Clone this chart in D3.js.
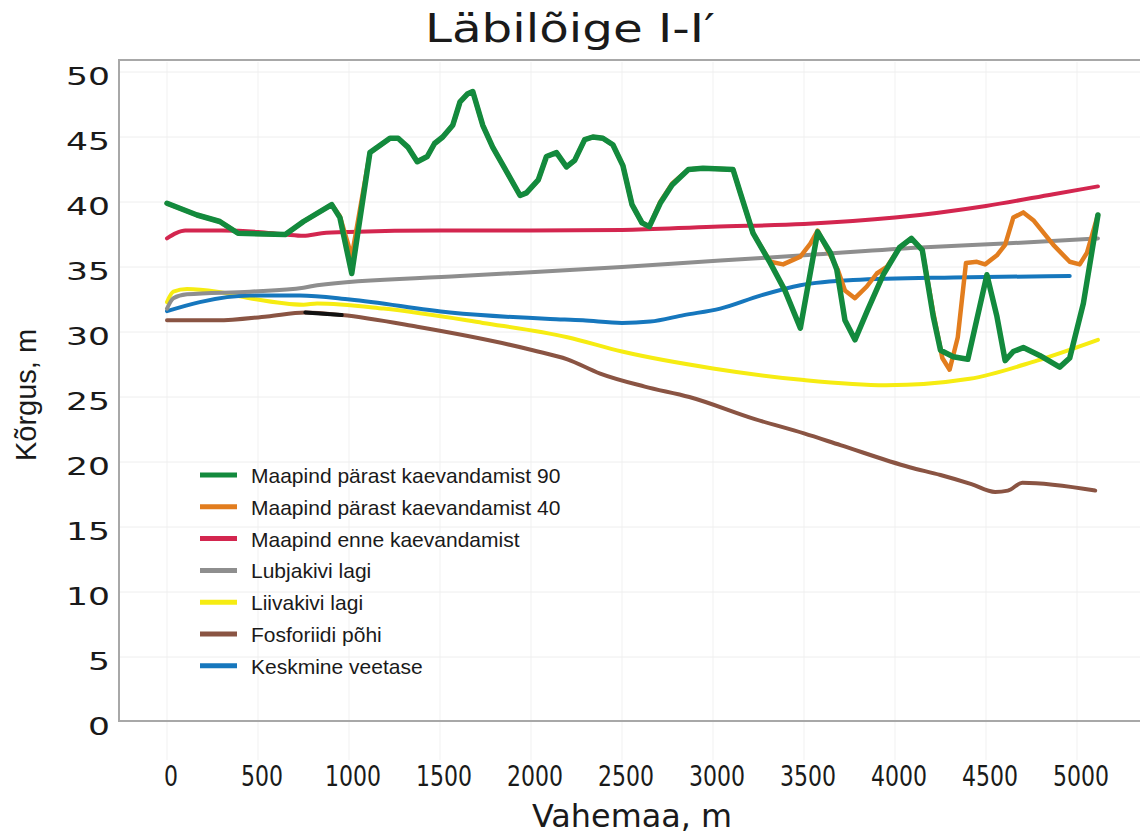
<!DOCTYPE html>
<html lang="et">
<head>
<meta charset="UTF-8">
<title>Läbilõige I-I′</title>
<script src="https://d3js.org/d3.v7.min.js"></script>
<style>
    body { margin: 0; background: #fff; }
    svg text { fill: #1a1a1a; }
    .legend-text { font-family: 'Liberation Sans', Arial, sans-serif; font-size: 21px; }
    .tick-y { font-family: 'DejaVu Sans', Verdana, sans-serif; font-size: 24px; }
    .tick-x { font-family: 'DejaVu Sans', Verdana, sans-serif; font-size: 28px; }
</style>
</head>
<body>
<svg id="chart" width="1140" height="834"></svg>
<script>
// distance (m), elevation (m)
const green90 = [[0,39.9],[165,39.0],[290,38.5],[390,37.6],[650,37.5],[750,38.5],[905,39.8],[950,38.8],[1015,34.5],[1115,43.8],[1225,44.9],[1270,44.9],[1325,44.2],[1375,43.1],[1430,43.5],[1470,44.5],[1515,45.0],[1570,45.9],[1610,47.7],[1650,48.3],[1680,48.5],[1735,45.9],[1790,44.2],[1855,42.6],[1940,40.5],[1975,40.7],[2040,41.7],[2085,43.5],[2140,43.8],[2195,42.7],[2240,43.2],[2295,44.8],[2340,45.0],[2395,44.9],[2450,44.4],[2505,42.8],[2555,39.8],[2610,38.4],[2650,38.1],[2710,39.9],[2775,41.3],[2865,42.5],[2945,42.6],[3110,42.5],[3150,40.7],[3220,37.6],[3315,35.3],[3395,33.2],[3480,30.3],[3575,37.7],[3645,36.1],[3680,34.8],[3725,30.9],[3780,29.4],[3850,31.7],[3935,34.4],[4025,36.5],[4090,37.2],[4150,36.3],[4210,31.2],[4250,28.6],[4320,28.1],[4400,27.9],[4505,34.4],[4560,31.2],[4605,27.8],[4650,28.5],[4705,28.8],[4795,28.2],[4905,27.3],[4960,28.0],[5035,32.2],[5115,39.0]];
const orange40 = [[0,39.9],[165,39.0],[290,38.5],[390,37.6],[650,37.5],[750,38.5],[905,39.8],[950,38.9],[1015,35.8],[1115,43.8],[1225,44.9],[1270,44.9],[1325,44.2],[1375,43.1],[1430,43.5],[1470,44.5],[1515,45.0],[1570,45.9],[1610,47.7],[1650,48.3],[1680,48.5],[1735,45.9],[1790,44.2],[1855,42.6],[1940,40.5],[1975,40.7],[2040,41.7],[2085,43.5],[2140,43.8],[2195,42.7],[2240,43.2],[2295,44.8],[2340,45.0],[2395,44.9],[2450,44.4],[2505,42.8],[2555,39.8],[2610,38.4],[2650,38.1],[2710,40.0],[2775,41.4],[2865,42.5],[2945,42.6],[3110,42.5],[3150,40.7],[3220,37.6],[3315,35.4],[3385,35.2],[3480,35.8],[3535,36.8],[3575,37.8],[3630,36.3],[3685,34.8],[3725,33.2],[3780,32.6],[3845,33.5],[3900,34.5],[3955,35.0],[4025,36.5],[4090,37.2],[4150,36.3],[4210,31.5],[4260,28.0],[4300,27.1],[4345,29.6],[4390,35.3],[4450,35.4],[4495,35.2],[4560,35.9],[4605,36.7],[4650,38.8],[4705,39.2],[4760,38.6],[4870,36.7],[4960,35.4],[5015,35.2],[5055,36.1],[5115,39.0]];
const redBefore = [[0,37.2],[50,37.6],[100,37.8],[300,37.8],[500,37.7],[650,37.5],[750,37.4],[850,37.6],[1000,37.7],[1500,37.8],[2000,37.8],[2500,37.85],[3000,38.1],[3500,38.3],[4000,38.8],[4500,39.7],[4870,40.6],[5115,41.2]];
const limestone = [[0,31.8],[35,32.6],[110,32.9],[455,33.1],[750,33.4],[825,33.6],[1610,34.3],[2500,35.0],[3040,35.5],[3500,35.9],[4140,36.5],[4600,36.8],[5115,37.2]];
const sandstone = [[0,32.3],[35,33.1],[110,33.3],[275,33.1],[455,32.6],[750,32.1],[825,32.2],[1190,31.8],[1735,30.7],[2200,29.6],[2500,28.5],[3000,27.2],[3500,26.3],[3950,25.9],[4410,26.4],[4780,27.8],[5115,29.4]];
const phosphorite = [[0,30.9],[275,30.9],[550,31.2],[760,31.5],[960,31.3],[1375,30.4],[2010,28.6],[2200,27.9],[2380,26.8],[2625,25.8],[2870,25.0],[3230,23.3],[3500,22.2],[3700,21.3],[4080,19.6],[4250,19.0],[4420,18.3],[4550,17.7],[4620,17.8],[4700,18.4],[5100,17.8]];
const blackPiece = [[760,31.5],[960,31.3]];
const waterLevel = [[0,31.6],[180,32.3],[455,32.8],[730,32.8],[1005,32.5],[1555,31.5],[2105,31.0],[2285,30.9],[2500,30.7],[2655,30.8],[2840,31.3],[3040,31.8],[3260,32.8],[3480,33.6],[3770,34.0],[4320,34.2],[4960,34.3]];

const seriesNames = ["Maapind pärast kaevandamist 90", "Maapind pärast kaevandamist 40", "Maapind enne kaevandamist", "Lubjakivi lagi", "Liivakivi lagi", "Fosforiidi põhi", "Keskmine veetase"];
const seriesColors = ["#138a3d", "#e27d1e", "#d3264f", "#8e8e8e", "#f6ec12", "#8a5443", "#1677bd"];
const xTicks = [0, 500, 1000, 1500, 2000, 2500, 3000, 3500, 4000, 4500, 5000];
const yTicks = [0, 5, 10, 15, 20, 25, 30, 35, 40, 45, 50];

const svg = d3.select("#chart");
const x = d3.scaleLinear().domain([0, 5000]).range([167, 1077]);
const y = d3.scaleLinear().domain([0, 50]).range([722, 72]);

// grid
svg.append("g").selectAll("line").data(xTicks).join("line")
    .attr("x1", d => x(d)).attr("x2", d => x(d))
    .attr("y1", 62).attr("y2", 760)
    .attr("stroke", "#f1f1f1").attr("stroke-width", 1);
svg.append("g").selectAll("line").data(yTicks.slice(1)).join("line")
    .attr("x1", 120).attr("x2", 1140)
    .attr("y1", d => y(d)).attr("y2", d => y(d))
    .attr("stroke", "#eeeeee").attr("stroke-width", 1);

// frame
svg.append("path")
    .attr("d", "M1140,60 H119 V721 H1140")
    .attr("fill", "none").attr("stroke", "#a8a8a8").attr("stroke-width", 2);

// title
svg.append("text")
    .attr("x", 570).attr("y", 42)
    .attr("text-anchor", "middle")
    .attr("textLength", 290).attr("lengthAdjust", "spacingAndGlyphs")
    .style("font-family", "'DejaVu Sans', sans-serif").style("font-size", "39px")
    .text("Läbilõige I-I′");

// y ticks
svg.append("g").selectAll("text").data(yTicks).join("text")
    .attr("class", "tick-y")
    .attr("x", 110).attr("y", d => y(d) + 13)
    .attr("text-anchor", "end")
    .attr("textLength", d => String(d).length * 22)
    .attr("lengthAdjust", "spacingAndGlyphs")
    .text(d => d);

// x ticks
svg.append("g").selectAll("text").data(xTicks).join("text")
    .attr("class", "tick-x")
    .attr("x", d => x(d) + 4).attr("y", 786)
    .attr("text-anchor", "middle")
    .attr("textLength", d => String(d).length * 14)
    .attr("lengthAdjust", "spacingAndGlyphs")
    .text(d => d);

// axis titles
svg.append("text")
    .attr("transform", "translate(36,395) rotate(-90)")
    .attr("text-anchor", "middle")
    .style("font-family", "'Liberation Sans', Arial, sans-serif").style("font-size", "29px")
    .text("Kõrgus, m");
svg.append("text")
    .attr("x", 632).attr("y", 827)
    .attr("text-anchor", "middle")
    .attr("textLength", 200).attr("lengthAdjust", "spacingAndGlyphs")
    .style("font-family", "'DejaVu Sans', sans-serif").style("font-size", "32px")
    .text("Vahemaa, m");

// lines
const smooth = d3.line().x(d => x(d[0])).y(d => y(d[1])).curve(d3.curveMonotoneX);
const jagged = d3.line().x(d => x(d[0])).y(d => y(d[1])).curve(d3.curveLinear);

const drawOrder = [
    { data: phosphorite, color: seriesColors[5], w: 4, line: smooth },
    { data: blackPiece, color: "#111", w: 4, line: jagged },
    { data: sandstone, color: seriesColors[4], w: 4, line: smooth },
    { data: waterLevel, color: seriesColors[6], w: 4, line: smooth },
    { data: limestone, color: seriesColors[3], w: 4, line: smooth },
    { data: redBefore, color: seriesColors[2], w: 4, line: smooth },
    { data: orange40, color: seriesColors[1], w: 4.5, line: jagged },
    { data: green90, color: seriesColors[0], w: 5.5, line: jagged }
];
drawOrder.forEach(s => {
    svg.append("path")
        .attr("d", s.line(s.data))
        .attr("fill", "none")
        .attr("stroke", s.color)
        .attr("stroke-width", s.w)
        .attr("stroke-linejoin", "round")
        .attr("stroke-linecap", "round");
});

// legend
const legend = svg.append("g").attr("transform", "translate(200,475)");
const rows = legend.selectAll("g").data(seriesNames).join("g")
    .attr("transform", (d, i) => `translate(0,${i * 31.8})`);
rows.append("line")
    .attr("x1", 0).attr("x2", 37).attr("y1", 0).attr("y2", 0)
    .attr("stroke", (d, i) => seriesColors[i]).attr("stroke-width", 5);
rows.append("text")
    .attr("class", "legend-text")
    .attr("x", 51).attr("y", 8)
    .text(d => d);
</script>
</body>
</html>
